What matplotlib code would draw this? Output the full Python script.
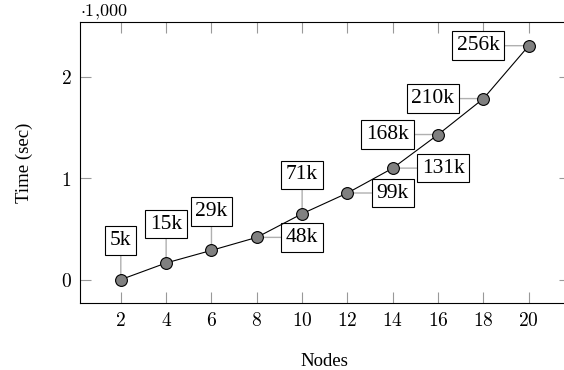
import matplotlib
matplotlib.use("Agg")
import matplotlib.pyplot as plt

# data (time in thousands of seconds)
nodes = [2, 4, 6, 8, 10, 12, 14, 16, 18, 20]
time_k = [0.0, 0.164, 0.288, 0.416, 0.649, 0.853, 1.098, 1.429, 1.783, 2.304]
pin_labels = ['5k', '15k', '29k', '48k', '71k', '99k', '131k', '168k', '210k', '256k']
pin_side = ['above', 'above', 'above', 'right', 'above', 'right', 'right', 'left', 'left', 'left']

xticks = [2, 4, 6, 8, 10, 12, 14, 16, 18, 20]
yticks = [0, 1, 2]

plt.rcParams['mathtext.fontset'] = 'cm'
serif = 'Liberation Serif'

fig = plt.figure(figsize=(5.64, 3.70), dpi=100)
ax = fig.add_axes([80/564, 1-303/370, (569.6-80)/564, (303-22.3)/370])

ax.plot(nodes, time_k, color='black', lw=0.8, marker='o', ms=8.5,
        mfc='#808080', mec='black', mew=0.8, zorder=4, clip_on=False)

box = dict(boxstyle='square,pad=0.22', fc='white', ec='black', lw=0.8)
line = dict(arrowstyle='-', color='#b0b0b0', lw=1, shrinkA=0, shrinkB=0)
for x, y, lab, side in zip(nodes, time_k, pin_labels, pin_side):
    if side == 'above':
        off, ha = (0, 28), 'center'
    elif side == 'right':
        off, ha = (21, 0), 'left'
    else:
        off, ha = (-21, 0), 'right'
    ax.annotate(lab, xy=(x, y), xytext=off, textcoords='offset points',
                ha=ha, va='center', fontsize=15.5, family=serif,
                bbox=box, arrowprops=line, zorder=3)

ax.set_xlim(0.2, 21.8)
ax.set_ylim(-0.2304, 2.5344)
ax.set_xticks(xticks)
ax.set_xticklabels(['$%d$' % t for t in xticks])
ax.set_yticks(yticks)
ax.set_yticklabels(['$%d$' % t for t in yticks])
ax.tick_params(direction='in', length=8, width=0.8, color='#999999',
               top=True, right=True, labelsize=14, pad=6)
for s in ax.spines.values():
    s.set_linewidth(0.8)

ax.set_xlabel('Nodes', family=serif, fontsize=13.5, labelpad=16)
ax.set_ylabel('Time (sec)', family=serif, fontsize=13.5, labelpad=20)
fig.text(80/564, 1-16/370, r'$\cdot 1{,}000$', ha='left', va='baseline',
         fontsize=13)

fig.savefig('out.png', dpi=100)
